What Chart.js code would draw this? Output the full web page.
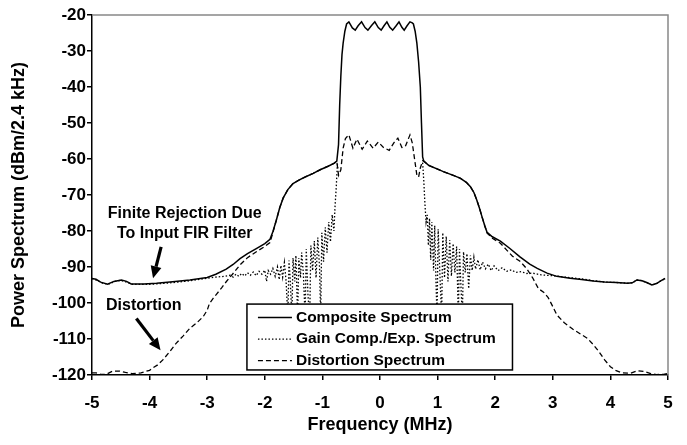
<!DOCTYPE html>
<html>
<head>
<meta charset="utf-8">
<script src="https://cdn.jsdelivr.net/npm/chart.js@4.4.1/dist/chart.umd.min.js"></script>
<style>
body{margin:0;background:#fff}
#wrap{width:687px;height:445px;position:relative}
</style>
</head>
<body>
<div id="wrap"><canvas id="spectrum"></canvas></div>
<script>
// composite spectrum (solid)
const compFreq = [-5.0,-4.93,-4.85,-4.73,-4.62,-4.49,-4.40,-4.32,-4.1,-3.88,-3.6,-3.3,-3.0,-2.85,-2.67,-2.55,-2.43,-2.3,-2.14,-2.0,-1.91,-1.86,-1.80,-1.74,-1.68,-1.60,-1.51,-1.40,-1.3,-1.16,-1.04,-0.9,-0.8,-0.75,-0.72,-0.70,-0.68,-0.66,-0.64,-0.61,-0.58,-0.54,-0.48,-0.43,-0.38,-0.32,-0.26,-0.21,-0.15,-0.09,-0.03,0.02,0.07,0.12,0.17,0.22,0.28,0.33,0.38,0.42,0.47,0.52,0.56,0.58,0.61,0.64,0.67,0.70,0.72,0.74,0.76,0.85,1.0,1.1,1.25,1.39,1.5,1.57,1.63,1.68,1.73,1.77,1.82,1.86,1.95,2.09,2.25,2.43,2.6,2.73,2.9,3.07,3.3,3.5,3.7,3.9,4.1,4.3,4.38,4.46,4.55,4.63,4.72,4.8,4.88,4.95];
const compDb = [-93.2,-93.4,-94.2,-94.8,-94.0,-93.6,-94.0,-94.7,-94.7,-94.5,-94.1,-93.6,-92.9,-92.0,-90.6,-89.3,-87.7,-86.3,-84.8,-83.5,-82.3,-80.2,-77.0,-73.5,-70.8,-68.5,-66.8,-65.8,-65.0,-64.0,-63.0,-62.0,-61.2,-60.6,-56,-45,-37,-31,-27.8,-24.5,-22.5,-21.9,-23.6,-24.2,-23.0,-21.9,-23.5,-24.2,-23.0,-21.9,-23.5,-24.2,-23.0,-21.9,-23.4,-24.2,-23.0,-21.9,-23.4,-24.2,-23.0,-21.9,-22.2,-22.5,-24.5,-27.8,-33,-40,-50,-59.4,-60.6,-61.8,-62.8,-63.5,-64.4,-65.3,-66.5,-67.7,-69.3,-71.4,-73.8,-76.0,-78.6,-80.4,-81.6,-82.8,-84.8,-87.2,-89.2,-90.4,-91.7,-92.6,-93.1,-93.5,-93.9,-94.2,-94.3,-94.5,-94.4,-93.6,-93.8,-94.3,-95.0,-94.6,-93.8,-93.2];

// gain comp./exp. spectrum (dotted), null = hidden under the passband
const gainFreq = [-5.0,-4.9,-4.8,-4.7,-4.6,-4.5,-4.4,-4.3,-4.0,-3.7,-3.4,-3.2,-3.0,-2.85,-2.7,-2.6,-2.55,-2.5,-2.45,-2.4,-2.35,-2.3,-2.25,-2.2,-2.15,-2.1,-2.05,-2.0,-1.97,-1.94,-1.90,-1.86,-1.82,-1.78,-1.75,-1.72,-1.69,-1.66,-1.63,-1.60,-1.58,-1.56,-1.53,-1.51,-1.48,-1.46,-1.43,-1.41,-1.38,-1.36,-1.33,-1.30,-1.28,-1.25,-1.22,-1.20,-1.17,-1.14,-1.11,-1.08,-1.05,-1.03,-1.01,-0.98,-0.95,-0.92,-0.89,-0.86,-0.83,-0.80,-0.78,-0.76,-0.74,-0.73,0,0.74,0.76,0.78,0.80,0.82,0.84,0.86,0.88,0.90,0.93,0.95,0.97,0.99,1.01,1.04,1.07,1.09,1.12,1.15,1.18,1.21,1.24,1.27,1.30,1.33,1.36,1.38,1.40,1.43,1.45,1.48,1.51,1.54,1.57,1.60,1.63,1.66,1.70,1.74,1.78,1.83,1.88,1.93,1.98,2.05,2.12,2.2,2.28,2.36,2.45,2.55,2.65,2.8,3.0,3.2,3.5,3.7,3.9,4.1,4.3,4.38,4.46,4.55,4.63,4.72,4.8,4.88,4.95];
const gainDb = [-93.2,-93.8,-94.6,-94.7,-94.0,-93.7,-94.2,-94.8,-94.8,-94.5,-94.0,-93.6,-93.1,-92.8,-92.6,-92.3,-92.8,-92.0,-92.6,-91.8,-92.5,-91.6,-92.3,-91.4,-92.4,-91.2,-92.0,-90.9,-94.0,-91.0,-92.0,-90.4,-92.6,-90.0,-93.5,-89.6,-92.8,-88.8,-94.0,-104,-88.2,-93.0,-104,-87.5,-94.0,-86.8,-104,-87.5,-93.0,-86.0,-92.0,-104,-85.0,-98,-104,-84.0,-91.0,-82.8,-93.0,-81.8,-90.0,-104,-80.5,-88.5,-79.0,-86.0,-77.5,-83.0,-75.5,-80.0,-73.0,-68.0,-61.5,-63.0,null,-61.0,-66,-72.5,-77.5,-75.5,-84,-76.5,-88,-77.5,-91,-78.5,-93,-104,-79.5,-92,-104,-80.5,-93,-81.5,-94,-82.5,-92.5,-83.5,-91.5,-84.3,-104,-85.0,-93.5,-104,-85.8,-91.5,-86.3,-96,-86.8,-91.0,-87.3,-90.6,-88.0,-90.8,-88.6,-90.5,-89.2,-91.0,-89.7,-91.0,-90.2,-91.2,-90.8,-91.5,-91.3,-91.8,-91.7,-92.2,-92.4,-92.8,-93.3,-93.8,-94.2,-94.3,-94.5,-94.4,-93.6,-93.8,-94.3,-95.0,-94.6,-93.8,-93.2];

// distortion spectrum (dashed)
const distFreq = [-5.0,-4.93,-4.85,-4.75,-4.64,-4.52,-4.42,-4.30,-4.15,-4.0,-3.95,-3.86,-3.77,-3.65,-3.54,-3.42,-3.30,-3.18,-3.07,-3.0,-2.96,-2.90,-2.84,-2.75,-2.67,-2.55,-2.43,-2.3,-2.14,-2.0,-1.91,-1.86,-1.80,-1.74,-1.68,-1.60,-1.51,-1.40,-1.3,-1.16,-1.04,-0.9,-0.8,-0.75,-0.72,-0.68,-0.64,-0.6,-0.54,-0.47,-0.40,-0.31,-0.22,-0.12,-0.03,0.06,0.16,0.24,0.31,0.38,0.44,0.52,0.56,0.60,0.64,0.67,0.70,0.74,0.76,0.85,1.0,1.1,1.25,1.39,1.5,1.57,1.63,1.68,1.73,1.77,1.82,1.86,1.95,2.09,2.2,2.3,2.43,2.55,2.65,2.75,2.84,2.92,3.0,3.07,3.2,3.35,3.5,3.6,3.7,3.8,3.9,4.0,4.1,4.2,4.35,4.47,4.58,4.7,4.8,4.92,5.0];
const distDb = [-119.4,-119.4,-119.8,-119.8,-118.9,-118.9,-119.3,-119.6,-119.4,-118.7,-118.1,-117.2,-115.8,-113.5,-111.2,-109.2,-107.0,-105.5,-103.8,-102.0,-100.1,-98.8,-97.6,-95.8,-94.1,-91.8,-89.4,-87.4,-85.7,-84.3,-83.2,-80.5,-77.0,-73.5,-70.8,-68.5,-66.8,-65.8,-65.0,-64.0,-63.0,-62.0,-61.2,-60.6,-64.5,-63.0,-57,-54.3,-53.3,-57.0,-54.5,-57.3,-55.0,-57.0,-55.3,-56.8,-57.6,-55.5,-54.2,-56.8,-56.5,-53.3,-55.5,-60,-64.5,-65,-62.5,-60.5,-60.6,-61.8,-62.8,-63.5,-64.4,-65.3,-66.5,-67.7,-69.3,-71.4,-73.8,-76.0,-78.6,-80.6,-82.0,-83.4,-85.3,-87.0,-88.4,-90.5,-93.0,-96.0,-97.0,-98.5,-101.0,-103.3,-105.5,-107.3,-108.8,-109.8,-111.5,-113.5,-115.8,-117.7,-118.8,-119.4,-119.5,-118.8,-119.0,-119.6,-119.9,-119.8,-119.6];

const xTicks = [-5,-4,-3,-2,-1,0,1,2,3,4,5];
const yTicks = [-120,-110,-100,-90,-80,-70,-60,-50,-40,-30,-20];
const seriesNames = ['Composite Spectrum','Gain Comp./Exp. Spectrum','Distortion Spectrum'];
const noteFir = ['Finite Rejection Due','To Input FIR Filter'];
const noteDist = 'Distortion';

const FONT = '"Liberation Sans", Arial, sans-serif';

function pts(xs, ys){ return xs.map((x,i)=>({x:x, y:ys[i]})); }

function arrow(ctx, x1, y1, x2, y2){
  const a = Math.atan2(y2-y1, x2-x1);
  const hl = 12, hw = 5.5;
  const bx = x2 - hl*Math.cos(a), by = y2 - hl*Math.sin(a);
  ctx.beginPath();
  ctx.moveTo(x1,y1); ctx.lineTo(bx,by);
  ctx.lineWidth = 3.2; ctx.strokeStyle = '#000'; ctx.stroke();
  ctx.beginPath();
  ctx.moveTo(x2,y2);
  ctx.lineTo(bx + hw*Math.sin(a), by - hw*Math.cos(a));
  ctx.lineTo(bx - hw*Math.sin(a), by + hw*Math.cos(a));
  ctx.closePath(); ctx.fillStyle = '#000'; ctx.fill();
}

const extras = {
  id: 'extras',
  afterDatasetsDraw(chart){
    const ctx = chart.ctx, a = chart.chartArea;
    const xs = chart.scales.x, ys = chart.scales.y;
    ctx.save();
    // grey frame top / right
    ctx.strokeStyle = '#888'; ctx.lineWidth = 1.5;
    ctx.beginPath();
    ctx.moveTo(a.left, a.top); ctx.lineTo(a.right, a.top); ctx.lineTo(a.right, a.bottom);
    ctx.stroke();

    // annotations
    ctx.fillStyle = '#000';
    ctx.font = 'bold 16px ' + FONT;
    ctx.textAlign = 'center'; ctx.textBaseline = 'middle';
    ctx.fillText(noteFir[0], xs.getPixelForValue(-3.39), ys.getPixelForValue(-75.3));
    ctx.fillText(noteFir[1], xs.getPixelForValue(-3.39), ys.getPixelForValue(-80.8));
    ctx.fillText(noteDist, xs.getPixelForValue(-4.10), ys.getPixelForValue(-100.8));
    arrow(ctx, xs.getPixelForValue(-3.80), ys.getPixelForValue(-84.4), xs.getPixelForValue(-3.94), ys.getPixelForValue(-93.1));
    arrow(ctx, xs.getPixelForValue(-4.23), ys.getPixelForValue(-104.3), xs.getPixelForValue(-3.81), ys.getPixelForValue(-113.1));

    // legend box
    const L = xs.getPixelForValue(-2.31), R = xs.getPixelForValue(2.30);
    const T = ys.getPixelForValue(-100.3), B = ys.getPixelForValue(-118.6);
    ctx.fillStyle = '#fff';
    ctx.fillRect(L, T, R-L, B-T);
    ctx.strokeStyle = '#000'; ctx.lineWidth = 1.5;
    ctx.strokeRect(L, T, R-L, B-T);
    ctx.font = 'bold 15.5px ' + FONT;
    ctx.textAlign = 'left';
    chart.data.datasets.forEach((ds, i) => {
      const y = T + 13.5 + i*21.5;
      ctx.beginPath();
      ctx.setLineDash(ds.borderDash || []);
      ctx.strokeStyle = ds.borderColor; ctx.lineWidth = ds.borderWidth;
      ctx.moveTo(L+11, y); ctx.lineTo(L+45, y); ctx.stroke();
      ctx.setLineDash([]);
      ctx.fillStyle = '#000';
      ctx.fillText(ds.label, L+49, y);
    });
    ctx.restore();
  }
};

new Chart(document.getElementById('spectrum'), {
  type: 'scatter',
  data: {
    datasets: [
      { label: seriesNames[0], data: pts(compFreq, compDb), showLine: true, borderColor: '#000', borderWidth: 1.5, pointRadius: 0 },
      { label: seriesNames[1], data: pts(gainFreq, gainDb), showLine: true, borderColor: '#000', borderWidth: 1.3, borderDash: [1.5, 2], pointRadius: 0, spanGaps: false },
      { label: seriesNames[2], data: pts(distFreq, distDb), showLine: true, borderColor: '#000', borderWidth: 1.3, borderDash: [5, 3], pointRadius: 0 }
    ]
  },
  options: {
    responsive: true,
    maintainAspectRatio: false,
    animation: false,
    layout: { padding: { top: 15, right: 19, left: 0, bottom: 0 } },
    plugins: { legend: { display: false }, tooltip: { enabled: false } },
    scales: {
      x: {
        type: 'linear', min: -5, max: 5,
        afterBuildTicks: s => { s.ticks = xTicks.map(v => ({value: v})); },
        afterFit: s => { s.height = 70; },
        grid: { display: true, drawOnChartArea: false, drawTicks: true, tickLength: 5, color: '#000', lineWidth: 1.5 },
        border: { display: true, color: '#000', width: 1.5 },
        ticks: { color: '#000', padding: 13, font: { family: FONT, size: 17, weight: 'bold' } },
        title: { display: true, text: 'Frequency (MHz)', color: '#000', padding: { top: 0, bottom: 9 }, font: { family: FONT, size: 18, weight: 'bold' } }
      },
      y: {
        type: 'linear', min: -120, max: -20,
        afterBuildTicks: s => { s.ticks = yTicks.map(v => ({value: v})); },
        afterFit: s => { s.width = 92; },
        grid: { display: true, drawOnChartArea: false, drawTicks: true, tickLength: 5, color: '#000', lineWidth: 1.5 },
        border: { display: true, color: '#000', width: 1.5 },
        ticks: { color: '#000', padding: 1, font: { family: FONT, size: 17, weight: 'bold' } },
        title: { display: true, text: 'Power Spectrum (dBm/2.4 kHz)', color: '#000', padding: { top: 8, bottom: 0 }, font: { family: FONT, size: 18, weight: 'bold' } }
      }
    }
  },
  plugins: [extras]
});
</script>
</body>
</html>
